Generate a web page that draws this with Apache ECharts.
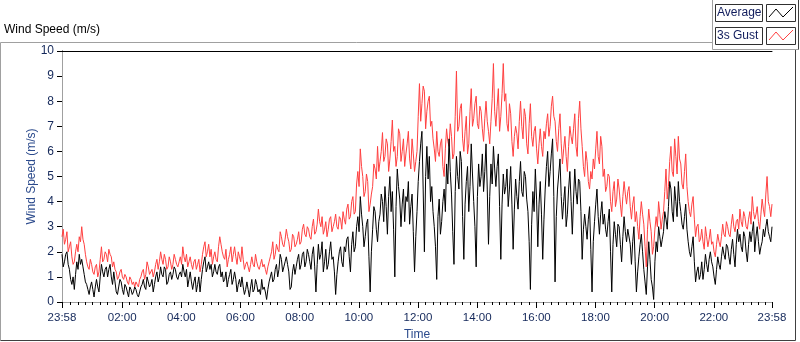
<!DOCTYPE html>
<html>
<head>
<meta charset="utf-8">
<script src="https://cdn.jsdelivr.net/npm/echarts@6/dist/echarts.min.js"></script>
<style>
  html, body { margin: 0; padding: 0; background: #fff; }
  #chart { width: 800px; height: 342px; }
</style>
</head>
<body>
<div id="chart"></div>
<script>
// one sample every 2.5 minutes, starting at 23:58
const stepMin = 2.5;
const startClock = 23 * 60 + 58;

const gust = [
  2.6, 2.9, 2.3, 2.5, 2.8, 2.0, 2.2, 2.4, 1.8, 1.5, 1.6, 2.0, 2.3, 2.0, 2.6, 2.4, 3.0, 2.5, 2.3, 1.9,
  1.6, 1.4, 1.3, 1.7, 1.5, 1.2, 1.1, 1.4, 1.5, 1.0, 1.2, 1.7, 2.2, 1.6, 1.7, 2.0, 1.9, 1.6, 2.1, 1.9,
  1.8, 1.4, 1.6, 1.3, 1.2, 0.9, 1.0, 1.2, 1.3, 1.0, 0.9, 1.1, 1.0, 0.8, 0.7, 1.0, 0.9, 0.7, 0.8, 0.6,
  0.8, 0.7, 0.6, 0.9, 1.0, 1.2, 1.3, 0.9, 1.1, 1.6, 1.4, 1.1, 1.2, 1.3, 1.0, 1.2, 1.5, 1.7, 1.3, 1.6,
  2.0, 1.7, 1.5, 1.9, 1.7, 1.3, 1.4, 1.8, 1.6, 1.3, 1.5, 1.9, 1.7, 1.5, 1.4, 1.6, 1.8, 1.5, 2.2, 1.8,
  1.6, 1.9, 1.4, 1.6, 1.8, 1.5, 1.3, 1.6, 1.7, 1.3, 1.5, 1.7, 1.2, 1.5, 1.9, 2.2, 2.4, 1.8, 2.0, 2.3,
  1.8, 2.1, 1.5, 1.8, 2.0, 1.7, 1.6, 2.2, 2.6, 2.3, 2.0, 1.8, 1.7, 2.1, 1.4, 1.7, 1.9, 2.2, 1.6, 1.9,
  2.2, 1.8, 1.5, 2.0, 1.8, 1.6, 2.2, 1.7, 1.3, 1.5, 1.6, 1.4, 1.2, 1.5, 1.8, 1.5, 1.4, 1.9, 1.6, 1.4,
  1.3, 1.5, 1.7, 1.4, 1.5, 1.3, 1.1, 1.4, 1.6, 1.8, 2.0, 2.4, 1.7, 1.9, 2.3, 2.1, 2.0, 2.8, 2.6, 2.3,
  2.2, 2.5, 2.9, 2.6, 2.4, 2.0, 2.1, 2.7, 2.6, 2.2, 2.3, 2.5, 2.8, 2.3, 2.4, 2.9, 3.1, 2.7, 2.6, 3.0,
  2.9, 2.6, 2.5, 3.0, 3.3, 2.7, 2.8, 3.1, 3.7, 3.2, 3.0, 3.4, 2.7, 2.9, 3.2, 2.6, 2.9, 3.3, 3.4, 2.8,
  3.0, 3.2, 3.5, 3.0, 2.9, 3.4, 3.3, 2.9, 3.6, 3.3, 3.1, 3.7, 3.9, 3.3, 3.4, 4.0, 4.2, 3.5, 3.6, 4.7,
  5.2, 4.6, 6.1, 5.4, 5.0, 4.2, 4.4, 5.1, 4.8, 3.6, 3.9, 4.3, 4.6, 5.5, 5.3, 4.9, 6.2, 5.2, 5.6, 6.0,
  6.75, 5.6, 5.8, 6.5, 6.3, 5.2, 5.7, 6.4, 7.25, 6.0, 6.2, 5.4, 5.8, 6.9, 6.7, 5.6, 6.0, 6.5, 5.4, 5.9,
  6.3, 6.8, 5.7, 5.3, 6.5, 5.9, 5.2, 5.6, 6.0, 7.4, 8.7, 7.2, 7.9, 8.6, 8.4, 6.9, 7.6, 8.0, 8.2, 7.0,
  7.2, 6.5, 6.1, 5.6, 6.8, 6.0, 5.8, 6.3, 6.5, 5.4, 5.0, 6.1, 6.9, 6.4, 6.2, 7.1, 6.6, 5.7, 5.9, 7.4,
  9.2, 6.8, 7.0, 7.7, 7.9, 6.5, 6.0, 6.8, 7.4, 5.9, 6.3, 7.6, 8.5, 7.0, 7.3, 7.9, 8.2, 7.1, 6.9, 7.8,
  7.6, 6.9, 6.4, 7.3, 8.0, 7.2, 6.8, 6.3, 7.2, 8.1, 9.5, 7.6, 7.0, 7.8, 8.5, 6.8, 7.4, 8.3, 9.5, 8.0,
  8.3, 7.1, 6.8, 7.9, 7.5, 6.4, 5.8, 6.6, 7.0, 6.7, 6.1, 7.2, 8.0, 7.0, 6.5, 7.7, 7.4, 6.3, 5.9, 7.1,
  7.9, 6.6, 6.2, 6.8, 7.0, 6.1, 5.5, 6.3, 6.9, 6.2, 5.8, 6.8, 6.5, 7.1, 7.5, 6.6, 7.0, 7.8, 8.2, 7.4,
  7.2, 6.4, 6.0, 6.9, 7.5, 6.3, 5.5, 6.1, 6.6, 5.8, 5.2, 6.2, 7.0, 6.6, 6.3, 6.9, 7.5, 6.2, 5.8, 7.3,
  8.0, 6.9, 6.2, 5.4, 5.0, 6.0, 5.6, 4.8, 4.5, 5.2, 4.9, 5.7, 5.3, 6.1, 6.8, 5.8, 5.5, 6.6, 6.2, 5.0,
  5.3, 4.4, 4.6, 5.1, 5.0, 4.0, 3.6, 4.4, 4.8, 3.8, 4.1, 4.9, 4.5, 3.9, 3.4, 4.2, 4.8, 4.3, 3.9, 4.4,
  4.6, 3.8, 3.3, 3.9, 4.2, 3.2, 3.6, 3.0, 2.5, 3.4, 4.0, 3.5, 3.1, 2.2, 1.4, 2.9, 3.7, 3.2, 2.8, 1.9,
  2.2, 2.9, 3.4, 3.0, 4.0, 3.5, 2.9, 3.3, 3.6, 4.4, 5.3, 4.1, 4.6, 5.6, 6.2, 5.2, 5.0, 6.5, 5.8, 5.1,
  6.6, 5.7, 5.5, 4.7, 4.5, 5.2, 5.9, 4.6, 4.0, 3.6, 3.4, 3.9, 4.2, 3.3, 2.6, 3.0, 3.1, 2.4, 2.5, 2.9,
  2.4, 2.1, 3.0, 2.6, 2.2, 2.5, 2.9, 2.3, 2.4, 2.0, 1.8, 2.3, 2.7, 2.4, 2.2, 2.6, 3.1, 2.7, 2.6, 3.2,
  3.0, 2.7, 2.6, 3.1, 3.5, 3.0, 2.8, 3.2, 3.3, 2.9, 3.7, 3.2, 3.0, 3.6, 3.4, 3.0, 2.9, 3.3, 3.6, 3.1,
  4.2, 3.6, 3.3, 3.5, 3.8, 3.2, 2.9, 3.5, 4.1, 3.7, 3.4, 4.3, 5.0, 4.0, 3.8, 3.4, 3.9
];

const average = [
  1.9, 1.4, 1.6, 1.9, 2.0, 1.5, 1.3, 0.9, 0.7, 1.0, 0.5, 1.1, 1.6, 1.3, 1.9, 1.5, 1.7, 1.4, 1.1, 0.8,
  0.7, 0.5, 0.3, 0.6, 0.8, 0.5, 0.2, 0.6, 0.9, 0.6, 0.4, 1.0, 1.5, 1.2, 1.0, 1.3, 1.4, 1.0, 1.3, 1.5,
  1.0, 0.7, 1.2, 0.8, 0.4, 0.3, 0.6, 0.9, 0.8, 0.5, 0.3, 0.7, 0.6, 0.4, 0.2, 0.6, 0.5, 0.3, 0.4, 0.6,
  0.5, 0.3, 0.2, 0.4, 0.6, 0.7, 0.9, 0.6, 0.5, 1.0, 0.8, 0.6, 0.7, 0.9, 0.4, 0.7, 1.0, 1.2, 0.8, 1.0,
  1.4, 1.1, 1.0, 1.4, 1.3, 0.7, 0.8, 1.1, 1.2, 0.9, 1.1, 1.4, 1.3, 1.0, 0.9, 1.1, 1.2, 1.0, 1.5, 1.2,
  1.0, 1.3, 0.6, 0.9, 1.2, 0.8, 0.5, 0.8, 1.0, 0.4, 0.7, 1.0, 0.4, 0.9, 1.3, 1.6, 1.8, 1.2, 1.4, 1.6,
  1.3, 1.5, 1.0, 1.2, 1.5, 1.2, 1.1, 1.4, 1.5, 1.0, 1.2, 0.8, 0.9, 1.2, 0.6, 0.9, 1.1, 1.3, 0.7, 0.9,
  1.2, 0.9, 0.4, 0.7, 0.9, 0.6, 1.0, 0.6, 0.3, 0.5, 0.8, 0.5, 0.2, 0.6, 0.9, 0.4, 0.5, 0.9, 0.7, 0.4,
  0.5, 0.3, 0.9, 0.5, 0.6, 0.4, 0.1, 0.5, 0.8, 1.0, 1.2, 0.8, 0.9, 1.3, 1.5, 1.0, 1.3, 1.9, 1.7, 1.2,
  1.4, 1.6, 1.8, 1.5, 1.2, 0.5, 0.6, 1.2, 1.5, 1.1, 1.4, 1.7, 1.9, 1.3, 1.5, 1.9, 2.0, 1.4, 1.6, 2.1,
  1.9, 1.6, 1.3, 1.9, 2.2, 1.4, 0.4, 1.5, 2.3, 1.7, 1.9, 2.4, 1.2, 1.6, 2.1, 1.3, 1.5, 2.0, 2.4, 1.7,
  1.8, 1.2, 0.3, 1.1, 1.6, 2.0, 2.2, 1.6, 1.4, 2.2, 2.0, 2.5, 2.6, 1.8, 1.2, 2.3, 2.8, 2.0, 2.2, 3.0,
  3.4, 2.8, 4.2, 3.5, 3.0, 2.2, 2.6, 3.1, 3.3, 1.8, 0.4, 2.0, 2.9, 3.8, 3.6, 2.9, 2.4, 3.2, 3.5, 4.3,
  4.0, 3.2, 4.6, 3.8, 2.7, 4.2, 5.0, 3.6, 4.4, 2.9, 1.0, 3.8, 5.3, 4.6, 4.1, 3.0, 3.9, 4.5, 3.2, 4.2,
  4.0, 4.8, 3.1, 3.8, 4.3, 2.8, 1.2, 2.6, 3.6, 4.8, 5.6, 6.3, 6.8, 4.5, 2.0, 5.0, 6.2, 4.9, 5.8, 4.0,
  4.6, 3.6, 3.0, 2.2, 0.9, 3.4, 4.1, 2.7, 3.2, 4.0, 4.5, 3.6, 5.5, 4.7, 6.5, 5.2, 4.3, 2.8, 1.5, 4.4,
  5.8, 5.0, 4.5, 6.0, 5.6, 3.4, 1.7, 3.9, 4.8, 5.4, 3.6, 4.6, 6.3, 5.1, 4.0, 3.0, 1.4, 4.2, 5.5, 4.6,
  5.0, 5.9, 4.4, 5.2, 6.3, 4.5, 2.3, 4.2, 5.5, 4.7, 6.2, 5.3, 4.6, 5.4, 5.9, 3.8, 1.7, 3.9, 5.1, 4.3,
  4.6, 5.3, 3.8, 4.5, 5.4, 3.9, 2.1, 3.7, 4.9, 4.2, 3.7, 4.8, 5.6, 4.4, 4.2, 5.2, 5.0, 4.1, 3.6, 2.4,
  0.5, 3.1, 4.4, 3.6, 5.3, 4.1, 2.2, 3.9, 4.8, 3.5, 1.7, 3.3, 4.5, 5.4, 6.0, 4.6, 5.2, 5.9, 6.5, 4.2,
  0.8, 3.4, 4.5, 5.1, 5.7, 4.2, 3.3, 4.0, 4.6, 3.0, 3.5, 4.5, 5.2, 4.0, 2.7, 4.1, 5.3, 4.4, 3.9, 4.9,
  4.8, 3.6, 1.7, 2.9, 3.5, 3.0, 2.5, 3.3, 3.8, 2.1, 0.4, 2.4, 3.2, 3.9, 4.5, 3.4, 2.7, 3.5, 4.0, 3.1,
  3.5, 2.9, 2.6, 3.2, 3.7, 2.0, 0.4, 2.3, 3.2, 2.7, 2.2, 3.1, 3.0, 2.3, 1.6, 2.6, 3.4, 2.8, 2.4, 2.9,
  2.9, 2.3, 1.5, 2.4, 3.0, 1.6, 0.4, 1.2, 1.8, 2.3, 2.7, 2.0, 1.3, 0.8, 0.3, 1.4, 2.4, 1.7, 0.9, 0.6,
  0.1, 1.6, 2.4, 2.0, 3.0, 2.6, 2.2, 2.5, 2.8, 3.6, 3.3, 2.9, 3.8, 4.8, 4.5, 3.6, 3.2, 4.6, 4.0, 3.4,
  4.8, 4.0, 3.6, 3.1, 2.9, 3.4, 3.9, 2.9, 2.4, 2.0, 1.8, 2.2, 2.6, 1.6, 0.8, 1.2, 1.4, 0.9, 1.1, 1.6,
  0.9, 1.3, 1.9, 1.5, 1.2, 1.7, 2.0, 1.6, 1.4, 1.0, 0.7, 1.3, 1.8, 1.5, 1.3, 1.8, 2.2, 1.9, 1.7, 2.3,
  2.2, 1.8, 1.5, 2.1, 2.5, 1.9, 1.4, 2.3, 2.9, 2.4, 2.7, 2.2, 2.0, 2.8, 2.6, 2.0, 1.6, 2.3, 2.8, 2.4,
  2.8, 3.2, 2.0, 2.6, 3.0, 2.4, 1.9, 2.2, 2.4, 2.9, 2.6, 3.0, 3.3, 2.8, 2.6, 2.4, 3.0
];

// minutes after 23:58 where the time labels sit
const labelMinutes = [0, 122, 242, 362, 482, 602, 722, 842, 962, 1082, 1202, 1322, 1440];
const minorTickMinutes = [];
for (let m = 17; m < 1440; m += 15) minorTickMinutes.push(m);

function clockLabel (m) {
  const t = (m + startClock) % 1440;
  const h = Math.floor(t / 60);
  const mm = t % 60;
  return String(h).padStart(2, '0') + ':' + String(mm).padStart(2, '0');
}

const labelColor = '#14285a';
const nameColor = '#2b4a8c';
const font = 'Liberation Sans';

const chart = echarts.init(document.getElementById('chart'));
chart.setOption({
  animation: false,
  backgroundColor: '#fff',
  textStyle: { fontFamily: font },
  grid: { left: 62, top: 51, width: 710, height: 251, outerBoundsMode: 'none' },
  xAxis: [
    {
      type: 'value',
      min: 0,
      max: 1440,
      position: 'bottom',
      name: 'Time',
      nameLocation: 'middle',
      nameGap: 27,
      nameMoveOverlap: false,
      nameTextStyle: { color: nameColor, fontSize: 12, fontFamily: font },
      axisLine: { show: true, lineStyle: { color: '#a0a0a0', width: 1 } },
      axisTick: { show: true, length: 6, customValues: labelMinutes, lineStyle: { color: '#000' } },
      axisLabel: {
        customValues: labelMinutes,
        margin: 10,
        color: labelColor,
        fontSize: 11.5,
        fontFamily: font,
        formatter: (v) => clockLabel(v)
      },
      splitLine: { show: false }
    },
    {
      type: 'value',
      min: 0,
      max: 1440,
      position: 'bottom',
      axisLine: { show: false },
      axisTick: { show: true, length: 3, customValues: minorTickMinutes, lineStyle: { color: '#000' } },
      axisLabel: { show: false },
      splitLine: { show: false }
    },
    {
      type: 'value',
      min: 0,
      max: 1440,
      position: 'top',
      axisLine: { show: true, lineStyle: { color: '#000' } },
      axisTick: { show: false },
      axisLabel: { show: false },
      splitLine: { show: false }
    }
  ],
  yAxis: [
    {
      type: 'value',
      min: 0,
      max: 10,
      interval: 1,
      name: 'Wind Speed (m/s)',
      nameLocation: 'middle',
      nameGap: 24,
      nameMoveOverlap: false,
      nameTextStyle: { color: nameColor, fontSize: 12, fontFamily: font },
      axisLine: { show: true, lineStyle: { color: '#000' } },
      axisTick: { show: true, length: 5, lineStyle: { color: '#000' } },
      axisLabel: { margin: 8, color: labelColor, fontSize: 12, fontFamily: font },
      splitLine: { show: false }
    },
    {
      type: 'value',
      min: 0,
      max: 10,
      position: 'right',
      axisLine: { show: true, lineStyle: { color: '#a0a0a0' } },
      axisTick: { show: false },
      axisLabel: { show: false },
      splitLine: { show: false }
    }
  ],
  series: [
    {
      name: '3s Gust',
      type: 'line',
      showSymbol: false,
      data: gust.map((v, i) => [i * stepMin, v]),
      lineStyle: { color: '#ff4040', width: 1 },
      itemStyle: { color: '#ff4040' }
    },
    {
      name: 'Average',
      type: 'line',
      showSymbol: false,
      data: average.map((v, i) => [i * stepMin, v]),
      lineStyle: { color: '#000', width: 1 },
      itemStyle: { color: '#000' }
    }
  ],
  graphic: [
    // title
    { type: 'text', left: 4, top: 24, style: { text: 'Wind Speed (m/s)', fill: '#000', font: '12px "Liberation Sans"' } },
    // outer panel frame
    { type: 'polyline', shape: { points: [[712, 42.5], [0.5, 42.5], [0.5, 340.5]] }, style: { stroke: '#a0a0a0', fill: null, lineWidth: 1 } },
    { type: 'polyline', shape: { points: [[0.5, 340.5], [795.5, 340.5], [795.5, 49.5]] }, style: { stroke: '#404040', fill: null, lineWidth: 1 } },
    // legend frame
    { type: 'polyline', shape: { points: [[712.5, 0], [712.5, 49.5], [798.5, 49.5]] }, style: { stroke: '#a0a0a0', fill: null, lineWidth: 1 } },
    { type: 'line', shape: { x1: 798.5, y1: 0, x2: 798.5, y2: 49.5 }, style: { stroke: '#404040', lineWidth: 1 } },
    // legend rows
    { type: 'rect', shape: { x: 715.5, y: 4.5, width: 47, height: 17 }, style: { fill: '#fff', stroke: '#303030', lineWidth: 1 } },
    { type: 'text', x: 717, y: 13, style: { text: 'Average', fill: '#101c5c', font: '12px "Liberation Sans"', verticalAlign: 'middle' } },
    { type: 'rect', shape: { x: 766.5, y: 4.5, width: 29, height: 17 }, style: { fill: '#fff', stroke: '#303030', lineWidth: 1 } },
    { type: 'polyline', shape: { points: [[769, 17], [776, 9], [783, 17], [793, 7]] }, style: { stroke: '#000', fill: null, lineWidth: 1 } },
    { type: 'rect', shape: { x: 715.5, y: 27.5, width: 47, height: 17 }, style: { fill: '#fff', stroke: '#303030', lineWidth: 1 } },
    { type: 'text', x: 717, y: 36, style: { text: '3s Gust', fill: '#101c5c', font: '12px "Liberation Sans"', verticalAlign: 'middle' } },
    { type: 'rect', shape: { x: 766.5, y: 27.5, width: 29, height: 17 }, style: { fill: '#fff', stroke: '#303030', lineWidth: 1 } },
    { type: 'polyline', shape: { points: [[769, 40], [776, 32], [783, 40], [793, 30]] }, style: { stroke: '#ff4040', fill: null, lineWidth: 1 } }
  ]
});
</script>
</body>
</html>
